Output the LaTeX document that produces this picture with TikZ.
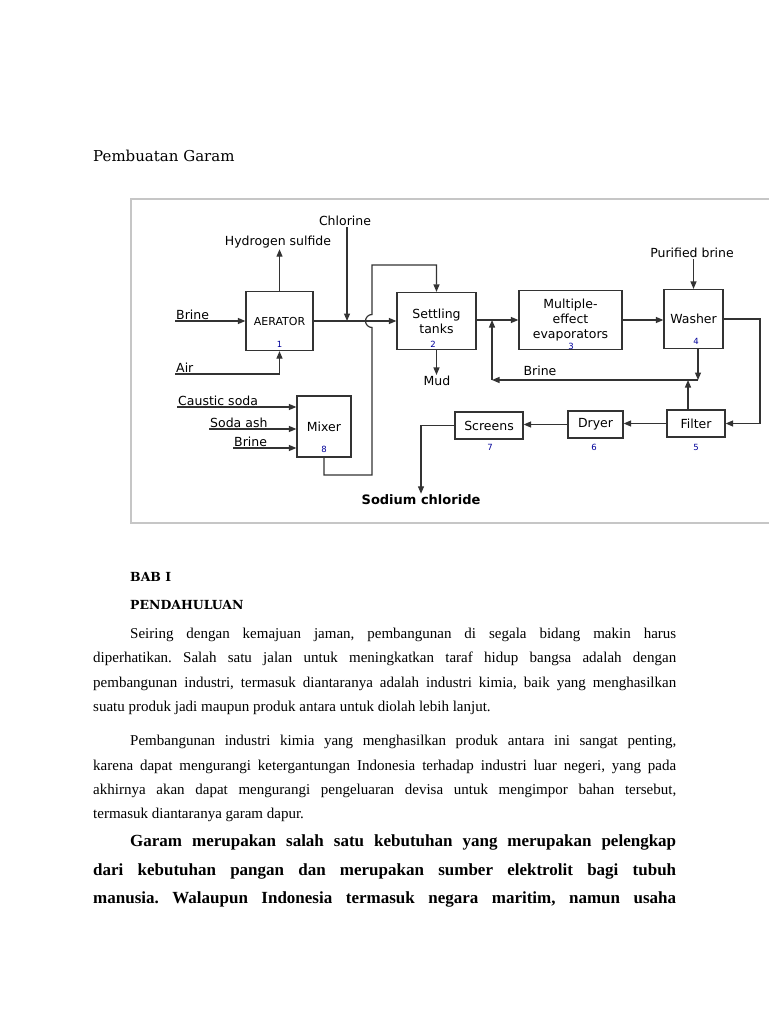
\documentclass[tikz,border=0pt]{standalone}
\usepackage{fontspec}
\setmainfont{Liberation Serif}
\newfontfamily\diagfont{DejaVu Sans}
\newfontfamily\headfont{DejaVu Serif}
\usetikzlibrary{arrows.meta,positioning,calc}
\newcommand{\diag}{\diagfont\fontsize{12.5}{15}\selectfont}
\newcommand{\diagnum}{\diagfont\fontsize{8.5}{9}\selectfont}
\frenchspacing

\begin{document}
\begin{tikzpicture}[
  x=1pt, y=-1pt,
  >={Triangle[length=7.5pt, width=6pt]},
  unit/.style={draw=black!80, line width=1.2pt, align=center, inner sep=1pt, font=\diag},
  tag/.style={inner sep=1pt, font=\diag},
  num/.style={inner sep=0pt, text=blue!60!black, font=\diagnum},
  flow/.style={draw=black!80, line width=1.2pt},
  body/.style={anchor=base west, inner sep=0pt, font=\fontsize{15}{18}\selectfont},
  strong/.style={anchor=base west, inner sep=0pt, font=\bfseries\fontsize{17}{20}\selectfont},
  head/.style={anchor=base west, inner sep=0pt, font=\headfont\bfseries\fontsize{12.5}{14}\selectfont}
]
  \useasboundingbox (0,0) rectangle (768,1024);

  % heading above the figure
  \node[anchor=base west, inner sep=0pt, font=\headfont\fontsize{15}{17}\selectfont] (title) at (93,162) {Pembuatan Garam};

  % figure frame
  \draw[gray!45, line width=1.6pt] (131,199) rectangle (772,523);

  % process units
  \node[unit, minimum width=67pt, minimum height=59pt, font=\diagfont\fontsize{11}{13}\selectfont] (aerator) at (279.5,321) {AERATOR};
  \node[unit, minimum width=79pt, minimum height=57pt] (settle) at (436.5,321) {Settling\\tanks};
  \node[unit, minimum width=103pt, minimum height=59pt] (evap) at (570.5,320) {Multiple-\\effect\\evaporators};
  \node[unit, minimum width=59pt, minimum height=59pt] (washer) at (693.5,319) {Washer};
  \node[unit, minimum width=58pt, minimum height=27pt] (filter) at (696,423.5) {Filter};
  \node[unit, minimum width=55pt, minimum height=27pt] (dryer) at (595.5,424.5) {Dryer};
  \node[unit, minimum width=68pt, minimum height=27pt] (screens) at (489,425.5) {Screens};
  \node[unit, minimum width=54pt, minimum height=61pt] (mixer) at (324,426.5) {Mixer};

  % unit numbers
  \node[num] (n1) at (279.5,344) {1};
  \node[num] (n2) at (433,344) {2};
  \node[num] (n3) at (571,346) {3};
  \node[num] (n4) at (696,341) {4};
  \node[num] (n5) at (696,447) {5};
  \node[num] (n6) at (594,447) {6};
  \node[num] (n7) at (490,447) {7};
  \node[num] (n8) at (324,449) {8};

  % stream labels
  \node[tag] (h2s) at (278,242) {Hydrogen sulfide};
  \node[tag] (cl2) at (345,221) {Chlorine};
  \node[tag, anchor=south west] (brinein) at (175,321) {Brine};
  \node[tag, anchor=south west] (air) at (175,374) {Air};
  \node[tag, anchor=south west] (caustic) at (177,407) {Caustic soda};
  \node[tag, anchor=south west] (sodaash) at (209,429) {Soda ash};
  \node[tag, anchor=south west] (brinemix) at (233,448) {Brine};
  \node[tag] (mud) at (437,381) {Mud};
  \node[tag] (pbrine) at (692,253) {Purified brine};
  \node[tag] (brineret) at (540,371) {Brine};
  \node[inner sep=1pt, font=\diagfont\bfseries\fontsize{13}{15}\selectfont] (nacl) at (421,500) {Sodium chloride};

  % junction points
  \coordinate (clj) at (347,321);
  \coordinate (mixlow) at (372,475);
  \coordinate (hopb) at (372,327.5);
  \coordinate (hoptop) at (372,265);
  \coordinate (retj) at (492,320);
  \coordinate (retc) at (492,380);
  \coordinate (bj) at (698,380);
  \coordinate (fj) at (688,380);
  \coordinate (wfar) at (760,370);

  % aerator streams
  \draw[flow,->] (brinein.south west) -- (brinein.south west -| aerator.west);
  \draw[flow,->] (air.south west) -| (aerator.south);
  \draw[flow,->] (aerator.north) -- (h2s.south -| aerator.north);
  \draw[flow,->] (cl2.south -| clj) -- (clj);
  \draw[flow,->] (aerator.east) -- (settle.west);

  % mixer streams
  \draw[flow,->] (caustic.south west) -- (caustic.south west -| mixer.west);
  \draw[flow,->] (sodaash.south west) -- (sodaash.south west -| mixer.west);
  \draw[flow,->] (brinemix.south west) -- (brinemix.south west -| mixer.west);
  \draw[flow,->] (mixer.south) |- (mixlow) -- (hopb)
    arc[start angle=90, end angle=270, radius=6.5] -- (hoptop) -| (settle.north);

  % main line
  \draw[flow,->] (settle.south) -- (settle.south |- mud.north);
  \draw[flow,->] (settle.east |- retj) -- (evap.west);
  \draw[flow,->] (evap.east) -- (evap.east -| washer.west);
  \draw[flow,->] (pbrine.south -| washer.north) -- (washer.north);
  \draw[flow,->] (washer.east) -| (wfar) |- (filter.east);
  \draw[flow,->] (filter.west) -- (filter.west -| dryer.east);
  \draw[flow,->] (dryer.west) -- (dryer.west -| screens.east);
  \draw[flow,->] (screens.west) -| (nacl.north);

  % brine return
  \draw[flow,->] (washer.south -| bj) -- (bj);
  \draw[flow,->] (filter.north -| fj) -- (fj);
  \draw[flow,->] (bj) -- (retc);
  \draw[flow,->] (retc) -- (retj);

  % chapter heading
  \node[head] (bab) at (130,581) {BAB I};
  \node[head] (pendahuluan) at (130,609) {PENDAHULUAN};

  % first paragraph
  \node[body] (p1a) at (130,638) {\makebox[546pt][s]{Seiring dengan kemajuan jaman, pembangunan di segala bidang makin harus}};
  \node[body] (p1b) at (93,662.5) {\makebox[583pt][s]{diperhatikan. Salah satu jalan untuk meningkatkan taraf hidup bangsa adalah dengan}};
  \node[body] (p1c) at (93,687) {\makebox[583pt][s]{pembangunan industri, termasuk diantaranya adalah industri kimia, baik yang menghasilkan}};
  \node[body] (p1d) at (93,711.5) {suatu produk jadi maupun produk antara untuk diolah lebih lanjut.};

  % second paragraph
  \node[body] (p2a) at (130,745.5) {\makebox[546pt][s]{Pembangunan industri kimia yang menghasilkan produk antara ini sangat penting,}};
  \node[body] (p2b) at (93,770) {\makebox[583pt][s]{karena dapat mengurangi ketergantungan Indonesia terhadap industri luar negeri, yang pada}};
  \node[body] (p2c) at (93,794) {\makebox[583pt][s]{akhirnya akan dapat mengurangi pengeluaran devisa untuk mengimpor bahan tersebut,}};
  \node[body] (p2d) at (93,818.5) {termasuk diantaranya garam dapur.};

  % bold paragraph
  \node[strong] (p3a) at (130,846) {\makebox[546pt][s]{Garam merupakan salah satu kebutuhan yang merupakan pelengkap}};
  \node[strong] (p3b) at (93,875) {\makebox[583pt][s]{dari kebutuhan pangan dan merupakan sumber elektrolit bagi tubuh}};
  \node[strong] (p3c) at (93,903) {\makebox[583pt][s]{manusia. Walaupun Indonesia termasuk negara maritim, namun usaha}};
\end{tikzpicture}
\end{document}
